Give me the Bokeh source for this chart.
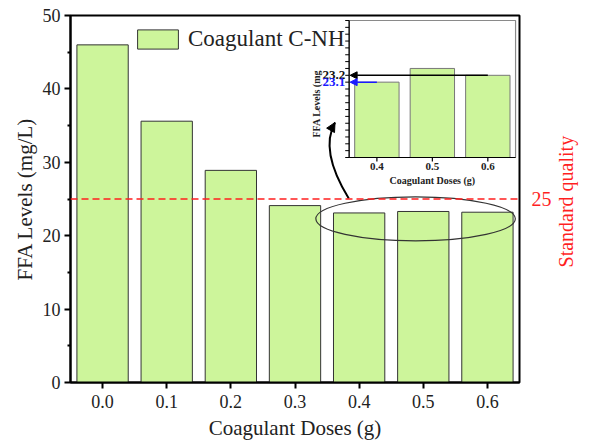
import numpy as np
from bokeh.plotting import figure
from bokeh.models import (Range1d, FixedTicker, Span, Arrow, NormalHead,
                          Legend, LegendItem, PrintfTickFormatter, LinearAxis,
                          CustomJSTickFormatter)
from bokeh.core.properties import value
from bokeh.embed import file_html
from bokeh.resources import INLINE

# ---------------- data ----------------
doses = [0.0, 0.1, 0.2, 0.3, 0.4, 0.5, 0.6]
ffa = [46.0, 35.6, 28.9, 24.1, 23.1, 23.3, 23.2]
inset_doses = [0.4, 0.5, 0.6]
inset_ffa = [23.1, 23.3, 23.2]
standard_limit = 25
standard_name = "Standard quality"
y_major = [0, 10, 20, 30, 40, 50]
y_minor = [5, 15, 25, 35, 45]
inset_y_ticks = [22.0, 22.1, 22.2, 22.3, 22.4, 22.5, 22.6, 22.7, 22.8, 22.9, 23.0,
                 23.1, 23.2, 23.3, 23.4, 23.5, 23.6, 23.7, 23.8, 23.9, 24.0]
marked_low = 23.1   # dose 0.4
marked_high = 23.2  # dose 0.6

# ---------------- style / layout ----------------
FONT_NAME = "Liberation Serif"
FONT = value(FONT_NAME)
BAR = "#cdf59b"
RED = "#ff1f1f"
W, H = 591, 445
FL, FR, FT, FB = 70, 526, 15, 382          # main frame (px)
IL, IR, IT, IB = 353, 522, 20, 157         # inset frame (px)
IX0, IX1, IY0, IY1 = 0.35, 0.65, 22.0, 24.0
NAME_START = 15.67                         # where the rotated name starts (y units)

p = figure(width=W, height=H, x_range=Range1d(-0.05, 0.65), y_range=Range1d(0, 50),
           output_backend="svg", toolbar_location=None,
           min_border_left=FL, min_border_right=W - FR,
           min_border_top=FT, min_border_bottom=H - FB)
p.xgrid.visible = False
p.ygrid.visible = False
p.outline_line_color = "black"
p.outline_line_width = 2
p.background_fill_color = "white"

# main axes
for ax in (p.xaxis[0], p.yaxis[0]):
    ax.axis_line_width = 2
    ax.major_tick_line_width = 2
    ax.minor_tick_line_width = 2
    ax.major_tick_out = 6
    ax.major_tick_in = 0
    ax.minor_tick_out = 3
    ax.minor_tick_in = 0
    ax.major_label_text_font = FONT_NAME
    ax.major_label_text_font_size = "18px"
    ax.major_label_text_color = "#222222"
    ax.axis_label_text_font = FONT_NAME
    ax.axis_label_text_font_size = "21px"
    ax.axis_label_text_font_style = "normal"
    ax.axis_label_text_color = "#222222"

p.xaxis.ticker = FixedTicker(ticks=doses)
p.xaxis.formatter = PrintfTickFormatter(format="%.1f")
p.xaxis.minor_tick_line_color = None
p.xaxis.major_label_standoff = 6
p.xaxis.axis_label = "Coagulant Doses (g)"
p.xaxis.axis_label_standoff = 5
p.yaxis.ticker = FixedTicker(ticks=y_major, minor_ticks=y_minor)
p.yaxis.major_label_standoff = 4
p.yaxis.axis_label = "FFA Levels (mg/L)"
p.yaxis.axis_label_standoff = 3

# right axis carrying the standard value
ra = LinearAxis(ticker=FixedTicker(ticks=[standard_limit], minor_ticks=[]),
                major_tick_line_color=None, minor_tick_line_color=None,
                axis_line_color=None,
                major_label_text_color=RED, major_label_text_font=FONT_NAME,
                major_label_text_font_size="20px", major_label_standoff=6)
p.add_layout(ra, "right")
# second right axis carrying the rotated name of the standard
rb = LinearAxis(ticker=FixedTicker(ticks=[NAME_START], minor_ticks=[]),
                formatter=CustomJSTickFormatter(code="return %r" % standard_name),
                major_tick_line_color=None, minor_tick_line_color=None,
                axis_line_color=None, major_label_orientation=np.pi / 2,
                major_label_text_color=RED, major_label_text_font=FONT_NAME,
                major_label_text_font_size="20px", major_label_standoff=6)
p.add_layout(rb, "right")

# main bars
bars = p.vbar(x=doses, top=ffa, width=0.08, bottom=0, fill_color=BAR,
              line_color="#333333", line_width=1)

legend = Legend(items=[LegendItem(label="Coagulant C-NH", renderers=[bars])],
                location=(62, 330), glyph_width=51, glyph_height=24, label_height=24,
                label_standoff=5, padding=0, margin=0, spacing=0,
                border_line_alpha=0, background_fill_alpha=0,
                label_text_font=FONT_NAME, label_text_font_size="23px",
                label_text_color="#222222")
p.add_layout(legend)

# standard line
p.add_layout(Span(location=standard_limit, dimension="width", line_color=RED,
                  line_dash="7 4", line_width=1.5))

# ellipse around the last three bars
ell_x, ell_y, ell_w, ell_h = 0.488, 22.3, 0.311, 6.0
p.ellipse(x=[ell_x], y=[ell_y], width=[ell_w], height=[ell_h], fill_alpha=0,
          line_color="#333333", line_width=1.2)

# curved arrow from ellipse to inset (pixel anchors -> data)
def px2d(px, py):
    return ((px - 101.7) / 652.1, (FB - py) / ((FB - FT) / 50.0))
sx0, sy0 = px2d(352, 198)
cx, cy = px2d(322, 150)
ex, ey = px2d(338, 122)
p.quadratic(x0=[sx0], y0=[sy0], x1=[ex], y1=[ey], cx=[cx], cy=[cy],
            line_color="black", line_width=2)
p.add_layout(Arrow(end=NormalHead(size=9, fill_color="black", line_color="black"),
                   x_start=ex - 0.15 * (ex - cx), y_start=ey - 0.15 * (ey - cy),
                   x_end=ex, y_end=ey, line_color="black", line_width=2))

# ---------------- inset (mapped through extra ranges) ----------------
ux = (IX1 - IX0) / (IR - IL)
uy = (IY1 - IY0) / (IB - IT)
p.extra_x_ranges = {"ix": Range1d(IX0 - (IL - FL) * ux, IX1 + (FR - IR) * ux)}
p.extra_y_ranges = {"iy": Range1d(IY0 - (FB - IB) * uy, IY1 + (IT - FT) * uy)}
kw = dict(x_range_name="ix", y_range_name="iy")

p.quad(left=[IX0], right=[IX1], bottom=[IY0], top=[IY1], fill_color="white",
       line_color="#8a8a8a", line_width=1.2, **kw)
p.vbar(x=inset_doses, top=inset_ffa, bottom=IY0, width=0.08, fill_color=BAR,
       line_color="#777777", line_width=1, **kw)
# inset axes lines
p.segment(x0=[IX0], y0=[IY0], x1=[IX0], y1=[IY1], line_color="black", line_width=1.2, **kw)
p.segment(x0=[IX0], y0=[IY0], x1=[IX1], y1=[IY0], line_color="black", line_width=1.2, **kw)
# inset ticks
p.segment(x0=[IX0] * len(inset_y_ticks), y0=inset_y_ticks,
          x1=[IX0 - 4 * ux] * len(inset_y_ticks), y1=inset_y_ticks,
          line_color="black", line_width=1, **kw)
p.segment(x0=inset_doses, y0=[IY0] * 3, x1=inset_doses, y1=[IY0 - 4 * uy] * 3,
          line_color="black", line_width=1.2, **kw)
# inset tick labels
p.text(x=inset_doses, y=[IY0 - 5 * uy] * 3, text=[f"{d:.1f}" for d in inset_doses],
       text_align="center", text_baseline="top", text_font=FONT, text_font_style="bold",
       text_font_size="11px", text_color="#222222", **kw)
p.text(x=[(IX0 + IX1) / 2], y=[IY0 - 23 * uy], text=["Coagulant Doses (g)"],
       text_align="center", text_baseline="middle", text_font=FONT, text_font_style="bold",
       text_font_size="10px", text_color="#222222", **kw)
p.text(x=[IX0 - 33 * ux], y=[IY0 + 20 * uy], text=["FFA Levels (mg"], angle=np.pi / 2,
       text_align="left", text_baseline="middle", text_font=FONT, text_font_style="bold",
       text_font_size="10px", text_color="#222222", **kw)
# marked values
p.text(x=[IX0 - 4 * ux], y=[marked_high], text=[f"{marked_high:.1f}"], text_align="right",
       text_baseline="middle", text_font=FONT, text_font_style="bold",
       text_font_size="13px", text_color="#111111", **kw)
p.text(x=[IX0 - 4 * ux], y=[marked_low], text=[f"{marked_low:.1f}"], text_align="right",
       text_baseline="middle", text_font=FONT, text_font_style="bold",
       text_font_size="13px", text_color="#1a1aff", **kw)
p.add_layout(Arrow(end=NormalHead(size=7, fill_color="black", line_color="black"),
                   x_start=inset_doses[2], y_start=marked_high, x_end=IX0 + 1 * ux,
                   y_end=marked_high, line_color="black", line_width=1.5, **kw))
p.add_layout(Arrow(end=NormalHead(size=7, fill_color="#1a1aff", line_color="#1a1aff"),
                   x_start=inset_doses[0], y_start=marked_low, x_end=IX0 + 1 * ux,
                   y_end=marked_low, line_color="#1a1aff", line_width=1.5, **kw))

open("out.html", "w").write(file_html(p, INLINE))
